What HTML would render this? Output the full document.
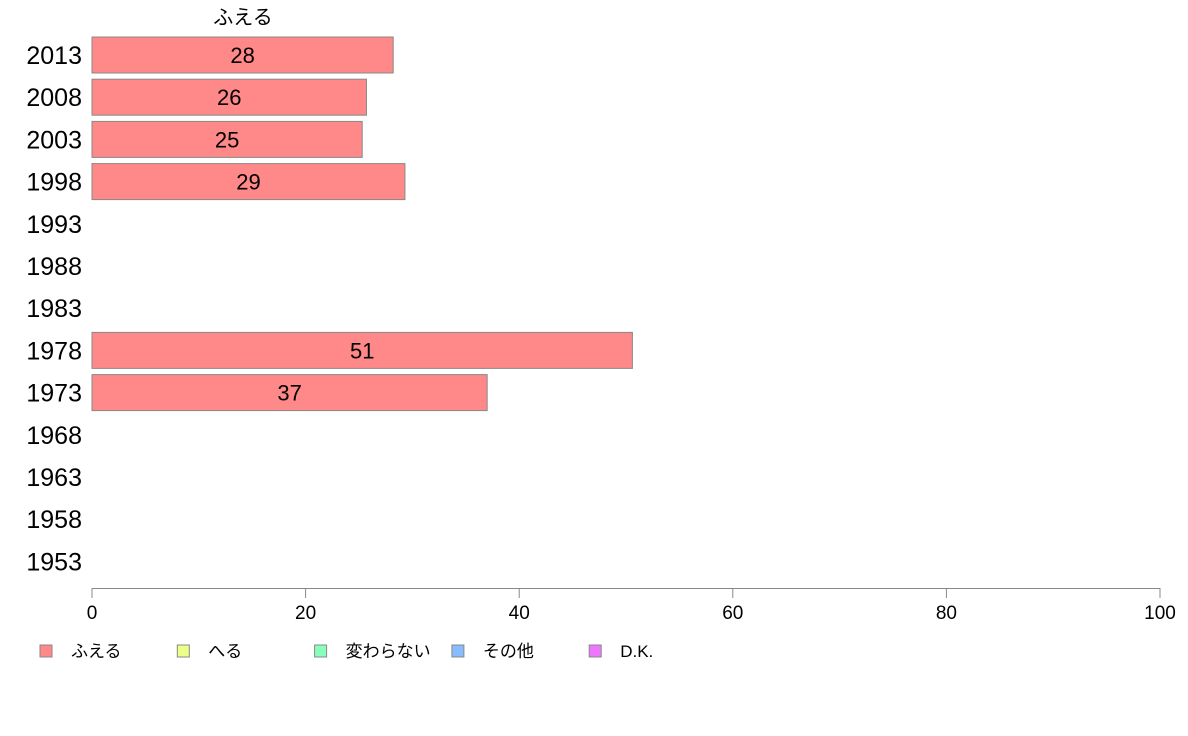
<!DOCTYPE html>
<html><head><meta charset="utf-8">
<style>
html,body{margin:0;padding:0;background:#fff;}
svg{display:block;font-family:"Liberation Sans","Noto Sans CJK JP",sans-serif;}
</style></head>
<body>
<svg id="chart" width="1188" height="736">
<text x="243" y="24" font-size="20" text-anchor="middle" fill="#000">ふえる</text>
<g id="bars"></g>
<g id="ylabels"></g>
<g id="xaxis"></g>
<g id="legend"></g>
</svg>
<script>
const years = ["2013","2008","2003","1998","1993","1988","1983","1978","1973","1968","1963","1958","1953"];
const values = [28.2, 25.7, 25.3, 29.3, null, null, null, 50.6, 37.0, null, null, null, null];
const labels = ["28","26","25","29","","","","51","37","","","",""];
const xTicks = [0,20,40,60,80,100];
const legendNames = ["ふえる","へる","変わらない","その他","D.K."];
const legendColors = ["#ff8888","#eeff88","#88ffbb","#88bbff","#ee77ff"];

const NS="http://www.w3.org/2000/svg";
const x0=92, x1=1160, xMax=100;
const xs=v=>x0+(v/xMax)*(x1-x0);
const rowTop=34, rowStep=42.2, barH=36;
const yc=i=>rowTop+rowStep*i+barH/2+3;
function mk(tag,attrs,parent){const e=document.createElementNS(NS,tag);for(const k in attrs)e.setAttribute(k,attrs[k]);parent.appendChild(e);return e;}

const bars=document.getElementById('bars'), yl=document.getElementById('ylabels');
years.forEach((y,i)=>{
  const t=mk('text',{x:82,y:yc(i)+9,'font-size':25,'text-anchor':'end',fill:'#000'},yl);
  t.textContent=y;
  
  
  const v=values[i];
  if(v!=null){
    const r=mk('rect',{x:x0,y:yc(i)-barH/2,width:xs(v)-x0,height:barH,fill:'#ff8888',stroke:'#888','stroke-width':1},bars);
    
    
    const lt=mk('text',{x:(x0+xs(v))/2,y:yc(i)+8,'font-size':22,'text-anchor':'middle',fill:'#000'},bars);
    lt.textContent=labels[i];
    
    
  }
});

const xa=document.getElementById('xaxis');
const al=mk('line',{x1:x0,x2:x1,y1:588.5,y2:588.5,stroke:'#888'},xa);


xTicks.forEach(t=>{
  const l=mk('line',{x1:xs(t),x2:xs(t),y1:588,y2:598,stroke:'#888'},xa);
  
  
  const tx=mk('text',{x:xs(t),y:619,'font-size':19,'text-anchor':'middle',fill:'#000'},xa);
  tx.textContent=t;
  
  
});

const lg=document.getElementById('legend');
legendNames.forEach((n,i)=>{
  const sx=40+i*137.3;
  const r=mk('rect',{x:sx,y:645,width:12,height:12,fill:legendColors[i],stroke:'#888'},lg);
  
  
  const t=mk('text',{x:sx+31,y:657,'font-size':17,fill:'#000'},lg);
  t.textContent=n;
  
  
});
</script>
</body></html>
